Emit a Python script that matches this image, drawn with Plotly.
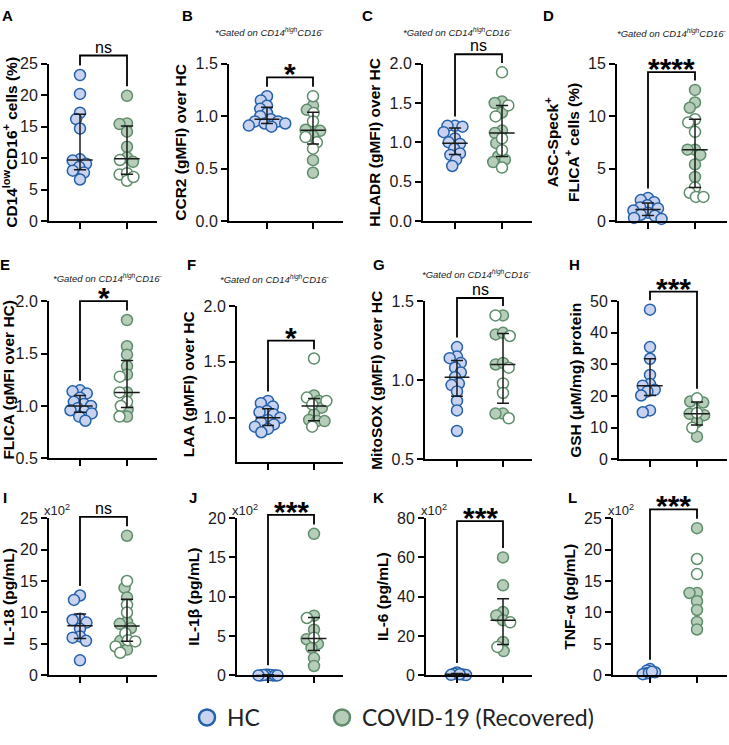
import numpy as np
import plotly.graph_objects as go

W, H = 729, 745

# ---------------- data ----------------
A_hc = [23.2, 20.2, 17.2, 16.2, 14.7, 9.8, 9.6, 9.1, 8.6, 8.0, 7.7, 6.6]
A_cov_filled = [19.9, 15.5, 15.4, 14.2, 11.8, 10.1, 9.4]
A_cov_open = [9.7, 7.4, 7.6, 6.4, 7.0]

B_hc = [1.19, 1.15, 1.10, 1.07, 1.03, 1.00, 0.97, 0.95, 0.95, 0.93, 0.93, 0.91, 0.90]
B_cov_filled = [1.10, 1.06, 0.88, 0.87, 0.86, 0.81, 0.58, 0.46]
B_cov_open = [1.19, 1.03, 0.95, 0.80, 0.75, 0.69]

C_hc = [1.21, 1.21, 1.20, 1.13, 1.05, 1.00, 0.98, 0.92, 0.86, 0.84, 0.78, 0.70]
C_cov_filled = [1.52, 1.50, 1.38, 1.15, 1.12, 0.99, 0.82, 0.78, 0.75]
C_cov_open = [1.89, 1.47, 1.33, 1.05, 0.90, 0.68]

D_hc = [2.2, 2.0, 1.8, 1.5, 1.3, 1.2, 1.0, 0.8, 0.6, 0.5, 0.3, 0.2]
D_cov_filled = [12.5, 11.3, 10.8, 6.8, 6.8, 6.3, 5.4, 4.2]
D_cov_open = [9.7, 9.4, 8.5, 3.2, 2.7, 2.3, 2.3]

E_hc = [1.15, 1.14, 1.12, 1.08, 1.04, 1.02, 1.00, 0.98, 0.96, 0.95, 0.93, 0.90, 0.86]
E_cov_filled = [1.82, 1.57, 1.49, 1.38, 1.30, 1.13, 0.97, 0.90]
E_cov_open = [1.28, 1.13, 1.04, 1.00, 0.90]

F_hc = [1.15, 1.13, 1.10, 1.06, 1.05, 1.03, 1.00, 0.98, 0.96, 0.94, 0.92, 0.90, 0.87]
F_cov_filled = [1.20, 1.15, 1.09, 1.03, 0.98, 0.97, 0.97]
F_cov_open = [1.53, 1.18, 1.15, 1.12, 0.92]

G_hc = [1.21, 1.15, 1.14, 1.11, 1.08, 1.05, 1.02, 0.98, 0.97, 0.93, 0.87, 0.81, 0.68]
G_cov_filled = [1.41, 1.29, 1.30, 1.10, 1.11, 0.79, 0.79]
G_cov_open = [1.41, 1.28, 1.08, 0.98, 0.92, 0.76]

H_hc = [47.3, 35.5, 31.8, 26.7, 23.8, 23.3, 22.0, 21.5, 20.2, 15.5, 14.9]
H_cov_filled = [18.3, 18.0, 14.4, 14.0, 11.8, 7.2]
H_cov_open = [19.3, 14.7, 10.0]

I_hc = [12.7, 12.0, 9.0, 8.8, 8.4, 7.4, 6.2, 6.0, 5.5, 2.4]
I_cov_filled = [22.2, 13.9, 12.4, 8.5, 8.2, 7.5, 5.5, 4.1]
I_cov_open = [15.0, 11.2, 10.0, 6.7, 5.6, 5.4, 4.6, 3.6]

J_hc = [0.1, 0.0, 0.05, 0.0, 0.1, 0.0, 0.05, 0.0, 0.0]
J_cov_filled = [18.0, 7.6, 5.8, 4.6, 4.0, 3.5, 2.2, 1.2]
J_cov_open = [7.3, 4.8]

K_hc = [1.5, 0.8, 0.5, 0.3, 0.2, 0.6]
K_cov_filled = [60.0, 45.8, 32.2, 30.5, 28.0, 17.0, 12.4]
K_cov_open = [27.0, 14.5]

L_hc = [1.0, 0.8, 0.5, 0.3, 0.2, 0.4, 0.6]
L_cov_filled = [23.4, 13.1, 13.1, 11.8, 10.4, 8.5, 7.3]
L_cov_open = [18.5, 16.1]

panel_letters = ["A", "B", "C", "D", "E", "F", "G", "H", "I", "J", "K", "L"]
y_titles = [
    "CD14<sup>low</sup>CD16<sup>+</sup> cells (%)",
    "CCR2 (gMFI) over HC",
    "HLADR (gMFI) over HC",
    "ASC-Speck<sup>+</sup><br>FLICA<sup>+</sup> cells (%)",
    "FLICA (gMFI over HC)",
    "LAA (gMFI) over HC",
    "MitoSOX (gMFI) over HC",
    "GSH (μM/mg) protein",
    "IL-18 (pg/mL)",
    "IL-1β (pg/mL)",
    "IL-6 (pg/mL)",
    "TNF-α (pg/mL)",
]
y_ranges = [[0, 25], [0, 1.5], [0, 2.0], [0, 15], [0.5, 2.0], [0.6, 2.0],
            [0.5, 1.5], [0, 50], [0, 25], [0, 20], [0, 80], [0, 25]]
y_ticks = [[0, 5, 10, 15, 20, 25], [0, 0.5, 1.0, 1.5], [0, 0.5, 1.0, 1.5, 2.0],
           [0, 5, 10, 15], [0.5, 1.0, 1.5, 2.0], [1.0, 1.5, 2.0], [0.5, 1.0, 1.5],
           [0, 10, 20, 30, 40, 50], [0, 5, 10, 15, 20, 25], [0, 5, 10, 15, 20],
           [0, 20, 40, 60, 80], [0, 5, 10, 15, 20, 25]]
y_tick_fmt = ["d", ".1f", ".1f", "d", ".1f", ".1f", ".1f", "d", "d", "d", "d", "d"]
sig_labels = ["ns", "*", "ns", "****", "*", "*", "ns", "***", "ns", "***", "***", "***"]
bracket_top = [26.3, 1.37, 2.12, 14.2, 2.0, 1.69, 1.52, 53, 25.2, 20.4, 78.5, 26.4]
gated_panels = ["B", "C", "D", "E", "F", "G"]
x100_panels = ["I", "J", "K", "L"]
no_summary_panels = ["L"]
legend_names = ["HC", "COVID-19 (Recovered)"]

hc_data = [A_hc, B_hc, C_hc, D_hc, E_hc, F_hc, G_hc, H_hc, I_hc, J_hc, K_hc, L_hc]
cov_filled = [A_cov_filled, B_cov_filled, C_cov_filled, D_cov_filled, E_cov_filled,
              F_cov_filled, G_cov_filled, H_cov_filled, I_cov_filled, J_cov_filled,
              K_cov_filled, L_cov_filled]
cov_open = [A_cov_open, B_cov_open, C_cov_open, D_cov_open, E_cov_open, F_cov_open,
            G_cov_open, H_cov_open, I_cov_open, J_cov_open, K_cov_open, L_cov_open]

# ---------------- layout (pixels) ----------------
# left, cat1, cat2, right, top, bottom
boxes = [(49, 80, 127, 157, 57, 218), (229, 267, 313, 343, 57, 218),
         (423, 455, 502, 532, 57, 218), (617, 648, 695, 727, 57, 218),
         (49, 80, 127, 157, 300, 461), (237, 268, 314, 343, 305, 465),
         (425, 457, 503, 532, 300, 462), (619, 650, 697, 727, 300, 462),
         (49, 80, 127, 157, 522, 683), (237, 268, 314, 343, 522, 683),
         (426, 457, 503, 532, 522, 683), (613, 650, 697, 727, 522, 683)]
letter_pos = [(7, 8), (188, 8), (367, 8), (548, 8), (5, 263), (191, 263),
              (379, 263), (574, 263), (5, 501), (193, 501), (378, 501), (572, 501)]
gated_pos = {"B": (270, 25), "C": (458, 25), "D": (672, 26),
             "E": (108, 276), "F": (275, 277), "G": (477, 272)}
hc_gap = {"J": 2.4, "K": 3.2, "L": 3.2}
SWARM_GAP = 7.5
EXT = 45  # extra px above each panel for the bracket overlay axes

HC_FILL, HC_LINE = "#c9d3ef", "#2461ab"
CV_FILL, CV_LINE = "#b5cdb9", "#5f8d6b"
FONT = "Liberation Sans, Arial, sans-serif"
MS = 11


def swarm(vals, ppy, d):
    vals = np.asarray(vals, float)
    order = np.argsort(-vals, kind="stable")
    placed = []
    offs = np.zeros(len(vals))
    for i in order:
        y = vals[i] * ppy
        cands = [0.0]
        for (px, py) in placed:
            dy = abs(py - y)
            if dy < d:
                dx = np.sqrt(d * d - dy * dy)
                cands += [px + dx, px - dx]
        cands.sort(key=lambda c: (round(abs(c), 6), c))
        for c in cands:
            if all((c - px) ** 2 + (y - py) ** 2 >= d * d - 1e-6 for px, py in placed):
                offs[i] = c
                placed.append((c, y))
                break
    return offs


def quart(v):
    v = np.asarray(v, float)
    return (np.percentile(v, 25, method="weibull"), np.median(v),
            np.percentile(v, 75, method="weibull"))


fig = go.Figure()
annotations = []

for k in range(12):
    L = panel_letters[k]
    left, c1, c2, right, top, bot = boxes[k]
    ppx = c2 - c1
    xr = [(left - c1) / ppx, (right - c1) / ppx]
    y0, y1 = y_ranges[k]
    ppy = (bot - top) / (y1 - y0)
    n = k + 1
    xa = "x" if n == 1 else f"x{n}"
    ya = "y" if n == 1 else f"y{n}"
    axn = "" if n == 1 else str(n)
    m = n + 12
    xo, yo = f"x{m}", f"y{m}"

    fig.update_layout({
        f"xaxis{axn}": dict(domain=[left / W, right / W], range=xr, anchor=ya,
                            showline=True, linewidth=2, linecolor="black",
                            ticks="outside", ticklen=6, tickwidth=2, tickcolor="black",
                            tickvals=[0, 1], showticklabels=False, showgrid=False,
                            zeroline=False, fixedrange=True),
        f"yaxis{axn}": dict(domain=[1 - bot / H, 1 - top / H], range=[y0, y1], anchor=xa,
                            showline=True, linewidth=2, linecolor="black",
                            ticks="outside", ticklen=6, tickwidth=2, tickcolor="black",
                            tickvals=y_ticks[k], tickformat=y_tick_fmt[k],
                            tickfont=dict(family=FONT, size=16, color="#1a1a1a"),
                            showgrid=False, zeroline=False, fixedrange=True,
                            title=dict(text=y_titles[k], standoff=5,
                                       font=dict(family=FONT, size=15.5, color="black",
                                                 weight="bold"))),
        f"xaxis{m}": dict(domain=[left / W, right / W], range=xr, anchor=yo,
                          visible=False, fixedrange=True),
        f"yaxis{m}": dict(domain=[1 - bot / H, 1 - (top - EXT) / H],
                          range=[y0, y1 + EXT / ppy], anchor=xo,
                          visible=False, fixedrange=True),
    })

    hc = np.asarray(hc_data[k], float)
    cf = np.asarray(cov_filled[k], float)
    co = np.asarray(cov_open[k], float)
    cov_all = np.concatenate([cf, co])

    hc_off = swarm(hc - y0, ppy, hc_gap.get(L, SWARM_GAP)) / ppx
    cov_off = swarm(cov_all - y0, ppy, SWARM_GAP) / ppx
    nf = len(cf)

    span = y1 - y0
    bt = bracket_top[k]
    legL = min(hc.max() + 0.06 * span, bt)
    legR = min(cov_all.max() + 0.06 * span, bt)
    fig.add_trace(go.Scatter(x=[0, 0, 1, 1], y=[legL, bt, bt, legR], mode="lines",
                             xaxis=xo, yaxis=yo, line=dict(color="black", width=1.8),
                             showlegend=False, hoverinfo="skip"))

    fig.add_trace(go.Scatter(x=0 + hc_off, y=hc, mode="markers", xaxis=xa, yaxis=ya,
                             marker=dict(size=MS, color=HC_FILL,
                                         line=dict(color=HC_LINE, width=1.5)),
                             cliponaxis=False, showlegend=False, hoverinfo="y"))
    fig.add_trace(go.Scatter(x=1 + cov_off[:nf], y=cf, mode="markers", xaxis=xa, yaxis=ya,
                             marker=dict(size=MS, color=CV_FILL,
                                         line=dict(color=CV_LINE, width=1.5)),
                             cliponaxis=False, showlegend=False, hoverinfo="y"))
    fig.add_trace(go.Scatter(x=1 + cov_off[nf:], y=co, mode="markers", xaxis=xa, yaxis=ya,
                             marker=dict(size=MS, color="white",
                                         line=dict(color=CV_LINE, width=1.5)),
                             cliponaxis=False, showlegend=False, hoverinfo="y"))

    if L not in no_summary_panels:
        sx, sy = [], []
        for c, grp in ((0, hc), (1, cov_all)):
            q1, md, q3 = quart(grp)
            sx += [c - 0.27, c + 0.27, None, c - 0.13, c + 0.13, None,
                   c - 0.13, c + 0.13, None, c, c, None]
            sy += [md, md, None, q1, q1, None, q3, q3, None, q1, q3, None]
        fig.add_trace(go.Scatter(x=sx, y=sy, mode="lines", xaxis=xo, yaxis=yo,
                                 line=dict(color="#1a1a1a", width=1.5),
                                 showlegend=False, hoverinfo="skip"))

    s = sig_labels[k]
    if s == "ns":
        annotations.append(dict(x=0.5, y=bt, xref=xo, yref=yo, text="ns", showarrow=False,
                                yanchor="bottom", yshift=-2,
                                font=dict(family=FONT, size=16, color="black")))
    else:
        annotations.append(dict(x=0.5, y=bt, xref=xo, yref=yo, text=s, showarrow=False,
                                yanchor="bottom", yshift=-15,
                                font=dict(family=FONT, size=30, color="black",
                                          weight="bold")))

    lx, ly = letter_pos[k]
    annotations.append(dict(x=lx / W, y=1 - ly / H, xref="paper", yref="paper", text=L,
                            showarrow=False, xanchor="center", yanchor="middle",
                            font=dict(family=FONT, size=15, color="black", weight="bold")))
    if L in gated_panels:
        gx, gy = gated_pos[L]
        annotations.append(dict(x=gx / W, y=1 - gy / H, xref="paper", yref="paper",
                                text="<i>*Gated on CD14<sup>high</sup>CD16<sup>-</sup></i>",
                                showarrow=False, xanchor="center", yanchor="middle",
                                font=dict(family=FONT, size=9.5, color="#222")))
    if L in x100_panels:
        annotations.append(dict(x=0, y=1, xref=f"{xa} domain", yref=f"{ya} domain",
                                text="x10<sup>2</sup>", showarrow=False, xanchor="left",
                                yanchor="bottom", xshift=-7, yshift=-2,
                                font=dict(family=FONT, size=13, color="#222")))

# legend entries (two separate legends for spacing control)
fig.add_trace(go.Scatter(x=[None], y=[None], mode="markers", name=legend_names[0],
                         legend="legend",
                         marker=dict(size=16, color=HC_FILL,
                                     line=dict(color=HC_LINE, width=2.5))))
fig.add_trace(go.Scatter(x=[None], y=[None], mode="markers", name=legend_names[1],
                         legend="legend2",
                         marker=dict(size=16, color=CV_FILL,
                                     line=dict(color=CV_LINE, width=2.5))))

LEG_FONT = dict(family="Lato, Liberation Sans, sans-serif", size=23, color="#222")
fig.update_layout(
    width=W, height=H, margin=dict(l=0, r=0, t=0, b=0),
    paper_bgcolor="white", plot_bgcolor="rgba(0,0,0,0)",
    annotations=annotations,
    showlegend=True,
    legend=dict(orientation="h", x=187 / W, xanchor="left", y=1 - 726 / H,
                yanchor="middle", font=LEG_FONT, itemsizing="trace",
                bgcolor="rgba(0,0,0,0)"),
    legend2=dict(orientation="h", x=322 / W, xanchor="left", y=1 - 726 / H,
                 yanchor="middle", font=LEG_FONT, itemsizing="trace",
                 bgcolor="rgba(0,0,0,0)"),
)

fig.write_html("out.html", config={"displayModeBar": False},
               post_script="document.body.style.margin='0';"
                           "document.body.style.overflow='hidden';")
